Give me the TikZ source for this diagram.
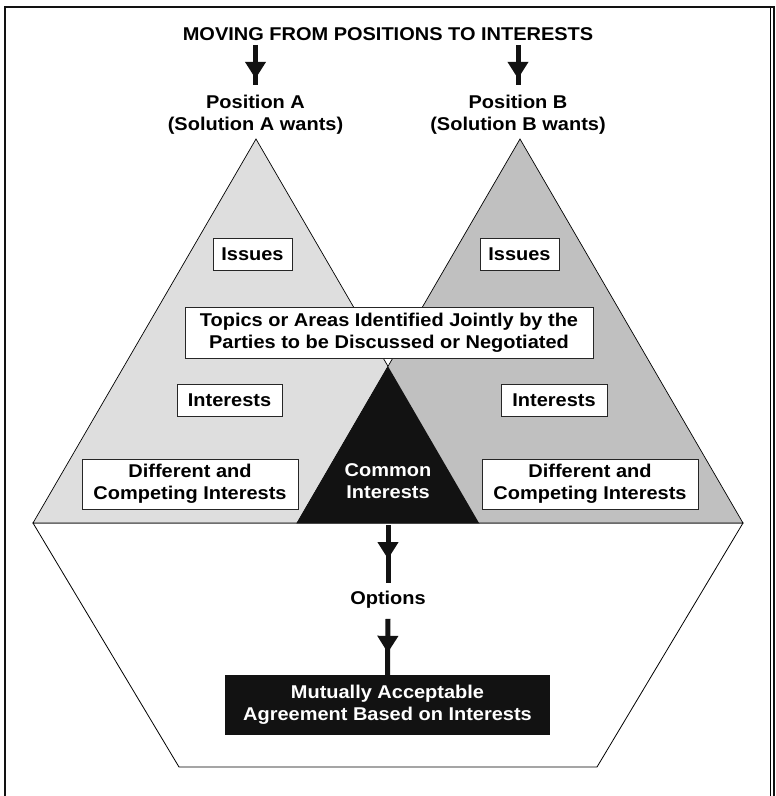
\documentclass[tikz,border=0pt]{standalone}
\usepackage{fontspec}
\setmainfont[FakeStretch=1.08]{Liberation Sans}
\usetikzlibrary{arrows.meta,decorations.markings,positioning}

\definecolor{sideA}{HTML}{DEDEDE}
\definecolor{sideB}{HTML}{C0C0C0}
\definecolor{inkblack}{HTML}{121212}

\tikzset{
    lbl/.style={font=\fontsize{18.5}{22}\selectfont\bfseries, align=center, inner sep=2pt},
    topicbox/.style={lbl, draw=black!85, line width=0.8pt, fill=white},
    flowarr/.style={draw=inkblack, line width=5pt, postaction={decorate},
        decoration={markings, mark=at position 34pt with {\arrow{Triangle[length=17pt,width=20pt]}}}},
}

\begin{document}
\begin{tikzpicture}[x=1pt,y=-1pt]
    \useasboundingbox (0,0) rectangle (776,796);

    % Outer frame (open at the bottom)
    \draw[line width=2.4pt, inkblack] (5,800) -- (5,7) -- (774,7) -- (774,800);
    \draw[line width=0.6pt] (770.5,8) -- (770.5,800);

    % Lower part: options and agreement
    \draw[fill=white, line width=0.8pt] (33,523) -- (179,767) -- (597,767) -- (743,523) -- cycle;

    % Position triangles, overlap is the common ground
    \draw[fill=sideA, line width=0.7pt] (33,523) -- (256,139) -- (479,523) -- cycle;
    \draw[fill=sideB, line width=0.7pt] (297,523) -- (520,139) -- (743,523) -- cycle;
    \fill[inkblack] (297,523) -- (388,366.3) -- (479,523) -- cycle;

    % Heading and positions
    \node[lbl] (title) at (388,34) {MOVING FROM POSITIONS TO INTERESTS};
    \node[lbl] (posA) at (255.5,115) {Position A\\(Solution A wants)};
    \node[lbl] (posB) at (518,115) {Position B\\(Solution B wants)};

    % Boxes inside the triangles
    \node[topicbox, minimum width=79pt, minimum height=32pt] (issA) at (252.5,254) {Issues};
    \node[topicbox, minimum width=79pt, minimum height=32pt] (issB) at (519.5,254) {Issues};
    \node[topicbox, minimum width=408pt, minimum height=51pt] (topics) at (389,332.5)
        {Topics or Areas Identified Jointly by the\\Parties to be Discussed or Negotiated};
    \node[topicbox, minimum width=105pt, minimum height=32pt] (intA) at (229.5,400) {Interests};
    \node[topicbox, minimum width=106pt, minimum height=32pt] (intB) at (554,400) {Interests};
    \node[topicbox, minimum width=216pt, minimum height=50pt] (diffA) at (190,484)
        {Different and\\Competing Interests};
    \node[topicbox, minimum width=216pt, minimum height=50pt] (diffB) at (590,484)
        {Different and\\Competing Interests};
    \node[lbl, text=white] (common) at (388,481) {Common\\Interests};

    % Options and agreement
    \coordinate (cbase) at (388,523);
    \node[lbl] (opts) at (388,600) {Options};
    \node[lbl, fill=inkblack, text=white, minimum width=325pt, minimum height=60pt] (agree)
        at (387.5,705) {Mutually Acceptable\\Agreement Based on Interests};

    % Arrows
    \draw[flowarr] ([yshift=-2pt]title.south -| posA.north) -- ([yshift=8pt]posA.north);
    \draw[flowarr] ([yshift=-2pt]title.south -| posB.north) -- ([yshift=8pt]posB.north);
    \draw[flowarr] ([yshift=-2pt]cbase) -- ([yshift=6pt]opts.north);
    \draw[flowarr] ([yshift=-8pt]opts.south) -- (agree.north);
\end{tikzpicture}
\end{document}
